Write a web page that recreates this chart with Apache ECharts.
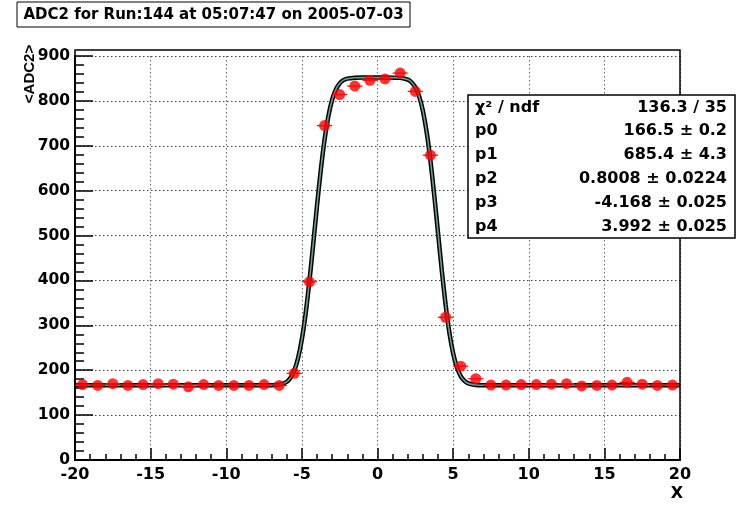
<!DOCTYPE html>
<html><head><meta charset="utf-8">
<script src="https://cdn.jsdelivr.net/npm/echarts@6/dist/echarts.min.js"></script>
<style>html,body{margin:0;padding:0;background:#fff}#c{width:736px;height:508px}</style>
</head><body><div id="c"></div>
<script>
// ---- data ----
const xCenters = [-19.5,-18.5,-17.5,-16.5,-15.5,-14.5,-13.5,-12.5,-11.5,-10.5,-9.5,-8.5,-7.5,-6.5,-5.5,-4.5,-3.5,-2.5,-1.5,-0.5,0.5,1.5,2.5,3.5,4.5,5.5,6.5,7.5,8.5,9.5,10.5,11.5,12.5,13.5,14.5,15.5,16.5,17.5,18.5,19.5];
const adcMeans = [168,166,170,166,168,170,169,163,168,166,166,166,168,166,193,397,745,814,833,846,849,862,821,679,318,209,181,167,167,168,168,169,170,165,166,167,173,169,166,167];
const xErr = [0.5,0.5,0.5,0.5,0.5,0.5,0.5,0.5,0.5,0.5,0.5,0.5,0.5,0.5,0.5,0.5,0.5,0.5,0.5,0.5,0.5,0.5,0.5,0.5,0.5,0.5,0.5,0.5,0.5,0.5,0.5,0.5,0.5,0.5,0.5,0.5,0.5,0.5,0.5,0.5];
const fitX = [-20,-7,-6.5,-6,-5.75,-5.5,-5.25,-5,-4.75,-4.5,-4.25,-4,-3.75,-3.5,-3.25,-3,-2.75,-2.5,-2.25,-2,-1.5,-1,0,1,1.5,2,2.25,2.5,2.75,3,3.25,3.5,3.75,4,4.25,4.5,4.75,5,5.25,5.5,5.75,6,6.5,7,20];
const fitY = [166.5,166.6,167.8,174.1,183.0,199.5,227.1,269.0,326.7,399.0,481.3,566.1,645.7,713.4,765.6,802.3,825.5,839.1,846.2,849.6,851.6,851.9,851.9,851.8,851.3,847.5,841.6,830.6,810.5,778.1,730.3,667.1,590.6,506.5,422.6,346.8,284.4,237.8,206.4,187.0,176.3,170.7,167.1,166.6,166.5];
const xTickValues = [-20,-15,-10,-5,0,5,10,15,20];
const yTickValues = [0,100,200,300,400,500,600,700,800,900];
const titleText = 'ADC2 for Run:144 at 05:07:47 on 2005-07-03';
const yTitle = '<ADC2>';
const xTitle = 'X';
const statLabels = ['χ² / ndf','p0','p1','p2','p3','p4'];
const statValues = ['136.3 / 35','166.5 ± 0.2','685.4 ± 4.3','0.8008 ± 0.0224','-4.168 ± 0.025','3.992 ± 0.025'];

const FONT = 'DejaVu Sans';
const chart = echarts.init(document.getElementById('c'), null, {renderer:'canvas'});

const points = xCenters.map((x,i)=>[x, adcMeans[i], xErr[i]]);
const fitData = fitX.map((x,i)=>[x, fitY[i]]);

const statsGraphics = [];
const boxX = 468, boxY = 95, boxW = 267, boxH = 143, rowH = 23.8;
statsGraphics.push({type:'rect', shape:{x:boxX, y:boxY, width:boxW, height:boxH}, style:{fill:'#fff', stroke:'#000', lineWidth:1.5}, z:100});
statLabels.forEach((s,i)=>{
  const cy = boxY + 12.5 + i*rowH;
  statsGraphics.push({type:'text', x:475, y:cy, style:{text:s, fill:'#000', font:'bold 16px "'+FONT+'"', textAlign:'left', textVerticalAlign:'middle'}, z:101});
  statsGraphics.push({type:'text', x:727, y:cy, style:{text:statValues[i], fill:'#000', font:'bold 16px "'+FONT+'"', textAlign:'right', textVerticalAlign:'middle'}, z:101});
});

const option = {
  animation:false,
  backgroundColor:'#fff',
  grid:{left:75, right:56, top:56, bottom:48, containLabel:false},
  xAxis:{
    type:'value', min:-20, max:20, interval:5,
    axisLine:{show:true, onZero:false, lineStyle:{color:'#000', width:2}},
    axisTick:{show:true, inside:true, length:12, lineStyle:{color:'#000', width:1.5}},
    minorTick:{show:true, splitNumber:5, length:6, lineStyle:{color:'#000', width:1.5}},
    splitLine:{show:true, lineStyle:{color:'#666', width:1, type:[1.5,2.5]}},
    axisLabel:{color:'#000', fontFamily:FONT, fontWeight:'bold', fontSize:16, margin:7,
      formatter:(v)=> xTickValues.includes(v) ? String(v) : ''}
  },
  yAxis:{
    type:'value', min:0, max:900, interval:100,
    axisLine:{show:true, onZero:false, lineStyle:{color:'#000', width:2}},
    axisTick:{show:true, inside:true, length:18, lineStyle:{color:'#000', width:1.5}},
    minorTick:{show:true, splitNumber:5, length:9, lineStyle:{color:'#000', width:1.5}},
    splitLine:{show:true, lineStyle:{color:'#444', width:1, type:[1.5,2.5]}},
    axisLabel:{color:'#000', fontFamily:FONT, fontWeight:'bold', fontSize:15.5, margin:5,
      formatter:(v)=> yTickValues.includes(v) ? String(v) : ''}
  },
  series:[
    {type:'line', data:fitData, showSymbol:false, smooth:0.25, lineStyle:{color:'#000', width:4.5}, z:2, silent:true},
    {type:'line', data:fitData, showSymbol:false, smooth:0.25, lineStyle:{color:'#6a9c8e', width:1.6}, z:3, silent:true},
    {type:'custom', z:4, silent:true,
      renderItem:(params, api)=>{
        const x = api.value(0), y = api.value(1), e = api.value(2);
        const p1 = api.coord([x-e, y]), p2 = api.coord([x+e, y]);
        return {type:'line', shape:{x1:p1[0], y1:p1[1], x2:p2[0], y2:p2[1]}, style:{stroke:'#ff0000', lineWidth:1.2}};
      },
      data:points, encode:{x:0, y:1}},
    {type:'scatter', data:points.map(p=>[p[0],p[1]]), symbol:'circle', symbolSize:11, itemStyle:{color:'#ff0000'}, z:5, silent:true}
  ],
  graphic:[
    {type:'rect', shape:{x:75, y:50, width:605, height:410}, style:{fill:'none', stroke:'#000', lineWidth:1.5}, z:50, silent:true},
    {type:'rect', shape:{x:17, y:2, width:393, height:25}, style:{fill:'#fff', stroke:'#000', lineWidth:1}, z:100},
    {type:'text', x:213.5, y:15, style:{text:titleText, fill:'#000', font:'bold 15px "'+FONT+'"', textAlign:'center', textVerticalAlign:'middle'}, z:101},
    {type:'text', x:30, y:74, rotation:Math.PI/2, style:{text:yTitle, fill:'#000', font:'bold 15px "Liberation Sans"', textAlign:'center', textVerticalAlign:'middle'}, z:101},
    {type:'text', x:677, y:494, style:{text:xTitle, fill:'#000', font:'bold 16px "'+FONT+'"', textAlign:'center', textVerticalAlign:'middle'}, z:101},
    ...statsGraphics
  ]
};
chart.setOption(option);
</script></body></html>
